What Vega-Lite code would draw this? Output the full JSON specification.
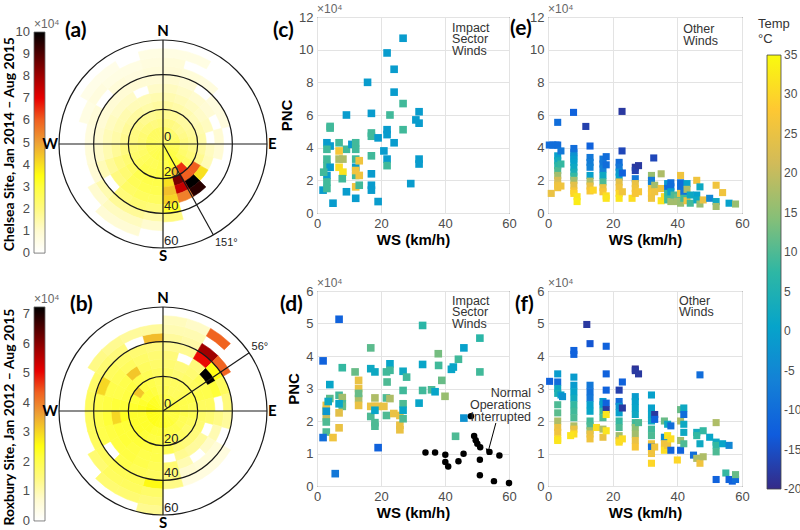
{
"$schema":"https://vega.github.io/schema/vega-lite/v6.json",
"padding":{"left":0,"top":2,"right":0,"bottom":0},
"background":"white",
"config":{"view":{"stroke":"#262626","strokeWidth":1},"font":"Liberation Sans",
"axis":{"gridColor":"#e3e3e3","gridWidth":1,"domain":false,"ticks":false,"labelOverlap":false,"tickCount":20,"format":"d","labelFont":"Liberation Sans","labelFontSize":13,"labelColor":"#4d4d4d","labelPadding":4,"labelFlush":false,"titleFont":"Liberation Sans","titleFontSize":15,"titleFontWeight":"bold","titleColor":"#000000"}},
"resolve":{"scale":{"fill":"independent","stroke":"independent","color":"independent","theta":"independent","radius":"independent"}},
"columns":5,"align":"none","bounds":"flush","spacing":{"column":39,"row":20},
"concat":[
{"width":9,"height":254,"view":{"stroke":null},
"layer":[
{"data":{"values":[{"lo":0,"hi":10}]},"mark":{"type":"rect","stroke":"#666666","strokeWidth":0.8,"fill":{"gradient":"linear","x1":0,"y1":1,"x2":0,"y2":0,"stops":[{"offset":0,"color":"#ffffff"},{"offset":0.1,"color":"#fffbd0"},{"offset":0.2,"color":"#fffa80"},{"offset":0.3,"color":"#ffff3c"},{"offset":0.35,"color":"#ffff10"},{"offset":0.4,"color":"#f8e020"},{"offset":0.5,"color":"#eda035"},{"offset":0.6,"color":"#f06020"},{"offset":0.7,"color":"#e80000"},{"offset":0.8,"color":"#a00000"},{"offset":0.9,"color":"#500000"},{"offset":1,"color":"#000000"}]}},
"encoding":{"x":{"datum":3.778,"type":"quantitative","scale":{"domain":[0,1],"nice":false,"zero":false},"axis":null},"x2":{"datum":5.0},"y":{"field":"lo","type":"quantitative","scale":{"domain":[-0.81,10.68],"nice":false,"zero":false},"axis":null},"y2":{"field":"hi"}}},
{"data":{"values":[{"v":0},{"v":1},{"v":2},{"v":3},{"v":4},{"v":5},{"v":6},{"v":7},{"v":8},{"v":9},{"v":10}]},"mark":{"type":"text","align":"right","baseline":"middle","fontSize":13,"color":"#4d4d4d"},"encoding":{"x":{"datum":3.333},"y":{"field":"v","type":"quantitative"},"text":{"field":"v","type":"quantitative"}}},
{"data":{"values":[{}]},"mark":{"type":"text","align":"center","baseline":"middle","angle":270,"font":"Lato","fontWeight":"bold","fontSize":14},"encoding":{"x":{"datum":1.111},"y":{"datum":4.93},"text":{"value":"Chelsea Site, Jan 2014 – Aug 2015"}}},
{"data":{"values":[{}]},"mark":{"type":"text","align":"left","baseline":"bottom","dy":-1,"fontSize":12,"color":"#666666"},"encoding":{"x":{"datum":3.778},"y":{"datum":10},"text":{"value":"×10⁴"}}}
]},
{"width":230,"height":254,"view":{"stroke":null},
"layer":[
{"data":{"values":[
{"a":0,"b":15,"r":0,"s":10,"p":2.35},{"a":0,"b":15,"r":10,"s":15,"p":2.0},{"a":0,"b":15,"r":15,"s":20,"p":1.8},{"a":0,"b":15,"r":20,"s":25,"p":1.6},{"a":0,"b":15,"r":25,"s":30,"p":1.4},{"a":0,"b":15,"r":30,"s":35,"p":1.2},{"a":0,"b":15,"r":35,"s":40,"p":1.0},{"a":0,"b":15,"r":40,"s":45,"p":0.9},{"a":0,"b":15,"r":45,"s":50,"p":0.8},{"a":0,"b":15,"r":50,"s":55,"p":0.6},
{"a":15,"b":30,"r":0,"s":10,"p":2.35},{"a":15,"b":30,"r":10,"s":15,"p":2.0},{"a":15,"b":30,"r":15,"s":20,"p":1.7},{"a":15,"b":30,"r":20,"s":25,"p":1.5},{"a":15,"b":30,"r":25,"s":30,"p":1.3},{"a":15,"b":30,"r":30,"s":35,"p":1.1},{"a":15,"b":30,"r":35,"s":40,"p":0.9},{"a":15,"b":30,"r":40,"s":45,"p":0.8},{"a":15,"b":30,"r":50,"s":55,"p":0.6},
{"a":30,"b":45,"r":0,"s":10,"p":2.25},{"a":30,"b":45,"r":10,"s":15,"p":1.9},{"a":30,"b":45,"r":15,"s":20,"p":1.6},{"a":30,"b":45,"r":20,"s":25,"p":1.4},{"a":30,"b":45,"r":25,"s":30,"p":1.2},{"a":30,"b":45,"r":30,"s":35,"p":1.0},{"a":30,"b":45,"r":40,"s":45,"p":0.7},
{"a":45,"b":60,"r":0,"s":10,"p":2.25},{"a":45,"b":60,"r":10,"s":15,"p":1.8},{"a":45,"b":60,"r":15,"s":20,"p":1.6},{"a":45,"b":60,"r":20,"s":25,"p":1.3},{"a":45,"b":60,"r":25,"s":30,"p":1.1},{"a":45,"b":60,"r":30,"s":35,"p":0.9},{"a":45,"b":60,"r":35,"s":40,"p":0.7},
{"a":60,"b":75,"r":0,"s":10,"p":2.35},{"a":60,"b":75,"r":10,"s":15,"p":1.9},{"a":60,"b":75,"r":15,"s":20,"p":1.7},{"a":60,"b":75,"r":20,"s":25,"p":1.4},{"a":60,"b":75,"r":25,"s":30,"p":1.2},{"a":60,"b":75,"r":35,"s":40,"p":0.7},
{"a":75,"b":90,"r":0,"s":10,"p":2.45},{"a":75,"b":90,"r":10,"s":15,"p":2.0},{"a":75,"b":90,"r":15,"s":20,"p":1.8},{"a":75,"b":90,"r":20,"s":25,"p":1.5},{"a":75,"b":90,"r":30,"s":35,"p":0.9},
{"a":90,"b":105,"r":0,"s":10,"p":2.55},{"a":90,"b":105,"r":10,"s":15,"p":2.1},{"a":90,"b":105,"r":15,"s":20,"p":1.9},{"a":90,"b":105,"r":20,"s":25,"p":1.6},{"a":90,"b":105,"r":25,"s":30,"p":1.2},{"a":90,"b":105,"r":30,"s":35,"p":0.9},
{"a":105,"b":120,"r":0,"s":10,"p":2.65},{"a":105,"b":120,"r":10,"s":15,"p":2.3},{"a":105,"b":120,"r":15,"s":20,"p":2.1},{"a":105,"b":120,"r":20,"s":25,"p":1.8},{"a":105,"b":120,"r":25,"s":30,"p":1.3},
{"a":120,"b":135,"r":0,"s":10,"p":2.8},{"a":120,"b":135,"r":10,"s":15,"p":2.5},{"a":120,"b":135,"r":15,"s":20,"p":2.4},{"a":120,"b":135,"r":20,"s":25,"p":6.0},{"a":120,"b":135,"r":25,"s":30,"p":4.0},
{"a":135,"b":150,"r":0,"s":10,"p":2.9},{"a":135,"b":150,"r":10,"s":15,"p":3.0},{"a":135,"b":150,"r":15,"s":20,"p":6.5},{"a":135,"b":150,"r":20,"s":25,"p":6.0},{"a":135,"b":150,"r":25,"s":30,"p":10},{"a":135,"b":150,"r":30,"s":35,"p":9.5},
{"a":150,"b":165,"r":0,"s":10,"p":2.95},{"a":150,"b":165,"r":10,"s":15,"p":3.1},{"a":150,"b":165,"r":15,"s":20,"p":4.5},{"a":150,"b":165,"r":20,"s":25,"p":8.5},{"a":150,"b":165,"r":25,"s":30,"p":7.5},{"a":150,"b":165,"r":30,"s":35,"p":5.5},
{"a":165,"b":180,"r":0,"s":10,"p":2.9},{"a":165,"b":180,"r":10,"s":15,"p":2.8},{"a":165,"b":180,"r":15,"s":20,"p":3.2},{"a":165,"b":180,"r":20,"s":25,"p":4.0},{"a":165,"b":180,"r":25,"s":30,"p":4.5},{"a":165,"b":180,"r":30,"s":35,"p":4.2},{"a":165,"b":180,"r":35,"s":40,"p":3.2},{"a":165,"b":180,"r":40,"s":45,"p":2.0},
{"a":180,"b":195,"r":0,"s":10,"p":2.75},{"a":180,"b":195,"r":10,"s":15,"p":2.7},{"a":180,"b":195,"r":15,"s":20,"p":2.8},{"a":180,"b":195,"r":20,"s":25,"p":2.8},{"a":180,"b":195,"r":25,"s":30,"p":2.7},{"a":180,"b":195,"r":30,"s":35,"p":2.5},{"a":180,"b":195,"r":35,"s":40,"p":2.1},{"a":180,"b":195,"r":40,"s":45,"p":1.5},{"a":180,"b":195,"r":45,"s":50,"p":1.0},
{"a":195,"b":210,"r":0,"s":10,"p":2.75},{"a":195,"b":210,"r":10,"s":15,"p":2.6},{"a":195,"b":210,"r":15,"s":20,"p":2.7},{"a":195,"b":210,"r":20,"s":25,"p":2.8},{"a":195,"b":210,"r":25,"s":30,"p":2.7},{"a":195,"b":210,"r":30,"s":35,"p":2.5},{"a":195,"b":210,"r":35,"s":40,"p":2.2},{"a":195,"b":210,"r":40,"s":45,"p":1.7},{"a":195,"b":210,"r":45,"s":50,"p":1.2},{"a":195,"b":210,"r":50,"s":55,"p":0.9},
{"a":210,"b":225,"r":0,"s":10,"p":2.7},{"a":210,"b":225,"r":10,"s":15,"p":2.6},{"a":210,"b":225,"r":15,"s":20,"p":2.7},{"a":210,"b":225,"r":20,"s":25,"p":2.7},{"a":210,"b":225,"r":25,"s":30,"p":2.6},{"a":210,"b":225,"r":30,"s":35,"p":2.4},{"a":210,"b":225,"r":35,"s":40,"p":2.1},{"a":210,"b":225,"r":40,"s":45,"p":1.7},{"a":210,"b":225,"r":45,"s":50,"p":1.2},{"a":210,"b":225,"r":50,"s":55,"p":0.9},
{"a":225,"b":240,"r":0,"s":10,"p":2.65},{"a":225,"b":240,"r":10,"s":15,"p":2.5},{"a":225,"b":240,"r":15,"s":20,"p":2.5},{"a":225,"b":240,"r":20,"s":25,"p":2.4},{"a":225,"b":240,"r":25,"s":30,"p":2.2},{"a":225,"b":240,"r":30,"s":35,"p":2.0},{"a":225,"b":240,"r":40,"s":45,"p":1.4},{"a":225,"b":240,"r":45,"s":50,"p":1.0},
{"a":240,"b":255,"r":0,"s":10,"p":2.6},{"a":240,"b":255,"r":10,"s":15,"p":2.4},{"a":240,"b":255,"r":15,"s":20,"p":2.3},{"a":240,"b":255,"r":20,"s":25,"p":2.2},{"a":240,"b":255,"r":25,"s":30,"p":2.0},{"a":240,"b":255,"r":30,"s":35,"p":1.7},{"a":240,"b":255,"r":35,"s":40,"p":1.3},{"a":240,"b":255,"r":40,"s":45,"p":0.9},
{"a":255,"b":270,"r":0,"s":10,"p":2.6},{"a":255,"b":270,"r":10,"s":15,"p":2.3},{"a":255,"b":270,"r":15,"s":20,"p":2.2},{"a":255,"b":270,"r":20,"s":25,"p":2.0},{"a":255,"b":270,"r":25,"s":30,"p":1.7},{"a":255,"b":270,"r":30,"s":35,"p":1.4},{"a":255,"b":270,"r":35,"s":40,"p":1.1},{"a":255,"b":270,"r":40,"s":45,"p":0.8},
{"a":270,"b":285,"r":0,"s":10,"p":2.5},{"a":270,"b":285,"r":10,"s":15,"p":2.2},{"a":270,"b":285,"r":15,"s":20,"p":2.0},{"a":270,"b":285,"r":20,"s":25,"p":1.8},{"a":270,"b":285,"r":25,"s":30,"p":1.5},{"a":270,"b":285,"r":30,"s":35,"p":1.3},{"a":270,"b":285,"r":35,"s":40,"p":1.0},{"a":270,"b":285,"r":40,"s":45,"p":0.7},
{"a":285,"b":300,"r":0,"s":10,"p":2.5},{"a":285,"b":300,"r":10,"s":15,"p":2.2},{"a":285,"b":300,"r":15,"s":20,"p":2.0},{"a":285,"b":300,"r":20,"s":25,"p":1.7},{"a":285,"b":300,"r":25,"s":30,"p":1.4},{"a":285,"b":300,"r":30,"s":35,"p":1.2},{"a":285,"b":300,"r":35,"s":40,"p":0.9},{"a":285,"b":300,"r":40,"s":45,"p":0.8},{"a":285,"b":300,"r":45,"s":50,"p":0.6},
{"a":300,"b":315,"r":0,"s":10,"p":2.45},{"a":300,"b":315,"r":10,"s":15,"p":2.1},{"a":300,"b":315,"r":15,"s":20,"p":1.9},{"a":300,"b":315,"r":20,"s":25,"p":1.6},{"a":300,"b":315,"r":25,"s":30,"p":1.4},{"a":300,"b":315,"r":30,"s":35,"p":1.1},{"a":300,"b":315,"r":35,"s":40,"p":0.9},{"a":300,"b":315,"r":45,"s":50,"p":0.7},{"a":300,"b":315,"r":50,"s":55,"p":0.5},
{"a":315,"b":330,"r":0,"s":10,"p":2.45},{"a":315,"b":330,"r":10,"s":15,"p":2.1},{"a":315,"b":330,"r":15,"s":20,"p":1.8},{"a":315,"b":330,"r":20,"s":25,"p":1.6},{"a":315,"b":330,"r":25,"s":30,"p":1.3},{"a":315,"b":330,"r":30,"s":35,"p":1.1},{"a":315,"b":330,"r":35,"s":40,"p":0.9},{"a":315,"b":330,"r":40,"s":45,"p":0.8},{"a":315,"b":330,"r":45,"s":50,"p":0.6},{"a":315,"b":330,"r":50,"s":55,"p":0.5},
{"a":330,"b":345,"r":0,"s":10,"p":2.45},{"a":330,"b":345,"r":10,"s":15,"p":2.0},{"a":330,"b":345,"r":15,"s":20,"p":1.8},{"a":330,"b":345,"r":20,"s":25,"p":1.5},{"a":330,"b":345,"r":25,"s":30,"p":1.3},{"a":330,"b":345,"r":35,"s":40,"p":0.9},{"a":330,"b":345,"r":40,"s":45,"p":0.7},{"a":330,"b":345,"r":45,"s":50,"p":0.6},
{"a":345,"b":360,"r":0,"s":10,"p":2.45},{"a":345,"b":360,"r":10,"s":15,"p":2.1},{"a":345,"b":360,"r":15,"s":20,"p":1.9},{"a":345,"b":360,"r":20,"s":25,"p":1.6},{"a":345,"b":360,"r":25,"s":30,"p":1.4},{"a":345,"b":360,"r":30,"s":35,"p":1.1},{"a":345,"b":360,"r":35,"s":40,"p":0.9},{"a":345,"b":360,"r":40,"s":45,"p":0.8},{"a":345,"b":360,"r":45,"s":50,"p":0.7},{"a":345,"b":360,"r":50,"s":55,"p":0.6}
]},
"mark":{"type":"arc","strokeWidth":0.6},
"encoding":{
"theta":{"field":"a","type":"quantitative","scale":{"type":"linear","domain":[0,360],"range":[0,6.283185307179586]}},"theta2":{"field":"b"},
"radius":{"field":"r","type":"quantitative","scale":{"type":"linear","domain":[0,60],"range":[0,104],"zero":true,"nice":false}},"radius2":{"field":"s"},
"fill":{"field":"p","type":"quantitative","scale":{"domain":[0,1,2,3,3.5,4,5,6,7,8,9,10],"range":["#ffffff","#fffbd0","#fffa80","#ffff3c","#ffff10","#f8e020","#eda035","#f06020","#e80000","#a00000","#500000","#000000"],"interpolate":"rgb"},"legend":null},
"stroke":{"field":"p","type":"quantitative","scale":{"domain":[0,1,2,3,3.5,4,5,6,7,8,9,10],"range":["#ffffff","#fffbd0","#fffa80","#ffff3c","#ffff10","#f8e020","#eda035","#f06020","#e80000","#a00000","#500000","#000000"],"interpolate":"rgb"},"legend":null}}},
{"data":{"values":[{"r":20},{"r":40},{"r":60}]},"mark":{"type":"arc","filled":false,"stroke":"#1a1a1a","strokeWidth":1.2},
"encoding":{"theta":{"datum":0},"theta2":{"datum":360},"radius":{"field":"r","type":"quantitative"},"radius2":{"datum":0}}},
{"data":{"values":[{"x":-60,"y":0,"x2":60,"y2":0},{"x":0,"y":-60,"x2":0,"y2":60},{"x":0,"y":0,"x2":29.09,"y2":-52.48}]},"mark":{"type":"rule","color":"#1a1a1a","strokeWidth":1.2},
"encoding":{"x":{"field":"x","type":"quantitative","scale":{"domain":[-66.35,66.35],"nice":false,"zero":false},"axis":null},"y":{"field":"y","type":"quantitative","scale":{"domain":[-73.27,73.27],"nice":false,"zero":false},"axis":null},"x2":{"field":"x2"},"y2":{"field":"y2"}}},
{"data":{"values":[{"y":0,"l":"0"},{"y":-20,"l":"20"},{"y":-40,"l":"40"},{"y":-60,"l":"60"}]},"mark":{"type":"text","align":"left","baseline":"bottom","dx":1,"fontSize":13,"color":"#222222"},"encoding":{"x":{"datum":0},"y":{"field":"y","type":"quantitative"},"text":{"field":"l"}}},
{"data":{"values":[{}]},"mark":{"type":"text","align":"center","baseline":"bottom","dy":-1,"font":"Lato","fontWeight":"bold","fontSize":15},"encoding":{"x":{"datum":0},"y":{"datum":60},"text":{"value":"N"}}},
{"data":{"values":[{}]},"mark":{"type":"text","align":"center","baseline":"top","dy":1,"font":"Lato","fontWeight":"bold","fontSize":15},"encoding":{"x":{"datum":0},"y":{"datum":-60},"text":{"value":"S"}}},
{"data":{"values":[{}]},"mark":{"type":"text","align":"right","baseline":"middle","dx":-1,"font":"Lato","fontWeight":"bold","fontSize":15},"encoding":{"x":{"datum":-60},"y":{"datum":0},"text":{"value":"W"}}},
{"data":{"values":[{}]},"mark":{"type":"text","align":"left","baseline":"middle","dx":1,"font":"Lato","fontWeight":"bold","fontSize":15},"encoding":{"x":{"datum":60},"y":{"datum":0},"text":{"value":"E"}}},
{"data":{"values":[{}]},"mark":{"type":"text","align":"left","baseline":"top","fontSize":11,"color":"#222222"},"encoding":{"x":{"datum":30},"y":{"datum":-53.5},"text":{"value":"151°"}}},
{"data":{"values":[{}]},"mark":{"type":"text","align":"left","baseline":"middle","font":"Lato","fontWeight":"bold","fontSize":21},"encoding":{"x":{"datum":-56.5},"y":{"datum":65.2},"text":{"value":"(a)"}}}
]},
{"width":192,"height":196,
"layer":[
{"data":{"values":[{"w":26.9,"p":10.7,"t":-1},{"w":21.9,"p":9.8,"t":-1},{"w":24.1,"p":8.8,"t":-1},{"w":15.8,"p":8.0,"t":-1},{"w":24.1,"p":7.4,"t":-1},{"w":26.9,"p":6.7,"t":9},{"w":22.8,"p":6.0,"t":9},{"w":31.9,"p":6.2,"t":-1},{"w":30.9,"p":5.7,"t":-1},{"w":31.9,"p":5.5,"t":-1},{"w":17,"p":6.1,"t":-1},{"w":9.2,"p":6.0,"t":-1},{"w":4.1,"p":5.3,"t":9},{"w":4.1,"p":5.2,"t":9},{"w":17,"p":4.9,"t":9},{"w":17,"p":4.7,"t":9},{"w":21.9,"p":5.1,"t":-1},{"w":21.9,"p":4.8,"t":-1},{"w":19.1,"p":4.6,"t":-1},{"w":24.1,"p":4.3,"t":-1},{"w":26.9,"p":5.1,"t":9},{"w":20.9,"p":3.8,"t":-1},{"w":21.9,"p":3.3,"t":-1},{"w":21.9,"p":2.9,"t":9},{"w":17,"p":3.5,"t":9},{"w":31.9,"p":3.3,"t":-1},{"w":31.9,"p":3.0,"t":-1},{"w":29.3,"p":1.8,"t":-1},{"w":17,"p":2.4,"t":-1},{"w":17,"p":1.7,"t":-1},{"w":17,"p":1.4,"t":-1},{"w":19.1,"p":0.7,"t":-1},{"w":12.1,"p":0.9,"t":-1},{"w":9.2,"p":1.3,"t":-1},{"w":5,"p":0.6,"t":-1},{"w":1.9,"p":1.4,"t":-1},{"w":3.1,"p":4.3,"t":-1},{"w":4.1,"p":4.1,"t":-1},{"w":9.2,"p":3.9,"t":9},{"w":10.9,"p":4.2,"t":-1},{"w":12.1,"p":4.3,"t":9},{"w":12.1,"p":3.9,"t":9},{"w":12.1,"p":3.3,"t":9},{"w":6.9,"p":4.3,"t":9},{"w":6.9,"p":3.8,"t":27},{"w":6.9,"p":3.3,"t":18},{"w":8.1,"p":3.3,"t":18},{"w":6.9,"p":2.8,"t":31},{"w":8.1,"p":2.5,"t":32},{"w":7.9,"p":2.1,"t":9},{"w":3.1,"p":3.3,"t":9},{"w":3.1,"p":2.9,"t":9},{"w":3.1,"p":2.3,"t":-1},{"w":3.1,"p":1.9,"t":9},{"w":3.1,"p":1.5,"t":9},{"w":4.1,"p":2.8,"t":-1},{"w":12.1,"p":2.8,"t":-1},{"w":12.1,"p":2.3,"t":9},{"w":12.1,"p":1.6,"t":26},{"w":13.2,"p":3.2,"t":26},{"w":13.2,"p":2.3,"t":26},{"w":12.1,"p":2.6,"t":26},{"w":13.2,"p":1.7,"t":9},{"w":3.1,"p":3.9,"t":9},{"w":2.1,"p":2.5,"t":9}]},
"mark":{"type":"square","size":58,"opacity":1},
"encoding":{"x":{"field":"w","type":"quantitative","scale":{"domain":[0,60],"nice":false,"zero":false},"axis":{"values":[0,20,40,60],"grid":true,"title":"WS (km/h)","titlePadding":2}},
"y":{"field":"p","type":"quantitative","scale":{"domain":[0,12],"nice":false},"axis":{"values":[0,2,4,6,8,10,12],"tickCount":20,"format":"d","grid":true,"title":"PNC","titlePadding":4}},
"color":{"field":"t","type":"quantitative","scale":{"domain":[-20,-13.125,-6.25,0.625,7.5,14.375,21.25,28.125,35],"range":["#352a87","#0f5cdd","#1481d6","#06a4ca","#2eb7a4","#87bf77","#d1bb59","#fec832","#f9fb0e"],"interpolate":"rgb"},"legend":null}}},
{"data":{"values":[{}]},"mark":{"type":"text","align":"left","baseline":"bottom","dy":-1,"fontSize":12,"color":"#666666"},"encoding":{"x":{"datum":0},"y":{"datum":12},"text":{"value":"×10⁴"}}},
{"data":{"values":[{}]},"mark":{"type":"text","align":"left","baseline":"top","fontSize":12.5,"lineHeight":11.5,"color":"#333333"},"encoding":{"x":{"datum":42.2},"y":{"datum":11.7},"text":{"value":["Impact","Sector","Winds"]}}},
{"data":{"values":[{}]},"mark":{"type":"text","align":"left","baseline":"middle","font":"Lato","fontWeight":"bold","fontSize":21},"encoding":{"x":{"datum":-13.75},"y":{"datum":11.14},"text":{"value":"(c)"}}}
]},
{"width":194,"height":196,
"layer":[
{"data":{"values":[{"w":3,"p":5.55,"t":-10},{"w":7.9,"p":6.16,"t":-12},{"w":11.7,"p":5.3,"t":-17},{"w":22.9,"p":6.22,"t":-18},{"w":22.9,"p":3.8,"t":-16},{"w":32.7,"p":3.37,"t":-16},{"w":0.4,"p":4.16,"t":-10},{"w":1.5,"p":4.16,"t":-10},{"w":2.5,"p":4.16,"t":-10},{"w":3,"p":4.16,"t":-10},{"w":3,"p":3.5,"t":0},{"w":3,"p":3.2,"t":3},{"w":3,"p":2.9,"t":7},{"w":3,"p":2.6,"t":10},{"w":3,"p":2.3,"t":17},{"w":3,"p":2.0,"t":22},{"w":3,"p":1.7,"t":25},{"w":3,"p":1.55,"t":26},{"w":1,"p":1.2,"t":25},{"w":4,"p":3.8,"t":-8},{"w":4,"p":3.0,"t":8},{"w":4,"p":1.65,"t":26},{"w":8,"p":3.95,"t":-10},{"w":8,"p":3.7,"t":-9},{"w":8,"p":3.5,"t":-3},{"w":8,"p":3.3,"t":-1},{"w":8,"p":3.1,"t":0},{"w":8,"p":2.8,"t":2},{"w":8,"p":2.5,"t":4},{"w":8,"p":2.25,"t":8},{"w":8,"p":2.0,"t":17},{"w":8,"p":1.7,"t":24},{"w":8,"p":1.35,"t":27},{"w":8,"p":1.2,"t":30},{"w":9,"p":1.0,"t":32},{"w":9,"p":0.7,"t":33},{"w":13,"p":4.1,"t":-12},{"w":13,"p":3.4,"t":-8},{"w":13,"p":3.1,"t":-7},{"w":13,"p":2.8,"t":-6},{"w":13,"p":2.3,"t":0},{"w":13,"p":1.95,"t":18},{"w":13,"p":1.65,"t":25},{"w":13,"p":1.35,"t":27},{"w":14,"p":1.4,"t":30},{"w":17,"p":3.3,"t":-8},{"w":17,"p":3.0,"t":-8},{"w":17,"p":2.7,"t":-6},{"w":17,"p":2.3,"t":2},{"w":17,"p":1.9,"t":10},{"w":17,"p":1.55,"t":25},{"w":17,"p":1.3,"t":27},{"w":18,"p":3.45,"t":-10},{"w":18,"p":2.95,"t":-10},{"w":18,"p":1.05,"t":31},{"w":18,"p":0.9,"t":32},{"w":22,"p":3.1,"t":-10},{"w":22,"p":2.8,"t":-8},{"w":22,"p":2.5,"t":-2},{"w":22,"p":2.2,"t":0},{"w":22,"p":1.9,"t":24},{"w":22,"p":1.55,"t":26},{"w":22,"p":1.2,"t":30},{"w":22,"p":0.9,"t":32},{"w":23,"p":2.45,"t":-12},{"w":23,"p":1.3,"t":26},{"w":26,"p":0.9,"t":31},{"w":27,"p":2.8,"t":-18},{"w":27,"p":2.6,"t":-17},{"w":27,"p":2.1,"t":-8},{"w":27,"p":1.8,"t":25},{"w":27,"p":1.5,"t":26},{"w":27,"p":1.2,"t":27},{"w":28,"p":2.9,"t":-18},{"w":28,"p":1.3,"t":27},{"w":32,"p":2.3,"t":16},{"w":32,"p":2.0,"t":-8},{"w":32,"p":1.8,"t":-6},{"w":32,"p":1.5,"t":26},{"w":32,"p":1.2,"t":27},{"w":32,"p":0.9,"t":26},{"w":33,"p":1.7,"t":17},{"w":33,"p":1.3,"t":26},{"w":35,"p":2.4,"t":18},{"w":35,"p":1.5,"t":26},{"w":35,"p":0.75,"t":32},{"w":36,"p":1.0,"t":31},{"w":37,"p":1.8,"t":-2},{"w":37,"p":1.5,"t":-10},{"w":37,"p":1.2,"t":8},{"w":37,"p":0.8,"t":9},{"w":38,"p":1.85,"t":-10},{"w":38,"p":1.6,"t":-10},{"w":38,"p":1.3,"t":0},{"w":38,"p":0.7,"t":17},{"w":39,"p":1.1,"t":10},{"w":40,"p":0.95,"t":12},{"w":40,"p":0.7,"t":17},{"w":41,"p":2.3,"t":26},{"w":41,"p":1.85,"t":-10},{"w":41,"p":1.6,"t":-10},{"w":41,"p":1.2,"t":26},{"w":41,"p":0.6,"t":16},{"w":42,"p":1.65,"t":-10},{"w":42,"p":1.3,"t":-9},{"w":42,"p":0.9,"t":9},{"w":43,"p":1.8,"t":0},{"w":43,"p":1.45,"t":18},{"w":43,"p":0.75,"t":26},{"w":44,"p":1.1,"t":2},{"w":44,"p":0.6,"t":9},{"w":46,"p":2.0,"t":26},{"w":46,"p":1.1,"t":0},{"w":46,"p":0.8,"t":2},{"w":47,"p":1.6,"t":2},{"w":47,"p":0.55,"t":16},{"w":48,"p":0.8,"t":25},{"w":50,"p":0.9,"t":-5},{"w":52,"p":1.7,"t":26},{"w":52,"p":0.7,"t":2},{"w":52,"p":0.4,"t":17},{"w":54,"p":1.25,"t":26},{"w":56,"p":0.6,"t":0},{"w":58,"p":0.55,"t":16}]},
"mark":{"type":"square","size":50,"opacity":1},
"encoding":{"x":{"field":"w","type":"quantitative","scale":{"domain":[0,60],"nice":false,"zero":false},"axis":{"values":[0,20,40,60],"grid":true,"title":"WS (km/h)","titlePadding":2}},
"y":{"field":"p","type":"quantitative","scale":{"domain":[0,12],"nice":false},"axis":{"values":[0,2,4,6,8,10,12],"tickCount":20,"format":"d","grid":true,"title":null}},
"color":{"field":"t","type":"quantitative","scale":{"domain":[-20,-13.125,-6.25,0.625,7.5,14.375,21.25,28.125,35],"range":["#352a87","#0f5cdd","#1481d6","#06a4ca","#2eb7a4","#87bf77","#d1bb59","#fec832","#f9fb0e"],"interpolate":"rgb"},"legend":null}}},
{"data":{"values":[{}]},"mark":{"type":"text","align":"left","baseline":"bottom","dy":-1,"fontSize":12,"color":"#666666"},"encoding":{"x":{"datum":0},"y":{"datum":12},"text":{"value":"×10⁴"}}},
{"data":{"values":[{}]},"mark":{"type":"text","align":"left","baseline":"top","fontSize":12.5,"lineHeight":11.5,"color":"#333333"},"encoding":{"x":{"datum":41.8},"y":{"datum":11.63},"text":{"value":["Other","Winds"]}}},
{"data":{"values":[{}]},"mark":{"type":"text","align":"left","baseline":"middle","font":"Lato","fontWeight":"bold","fontSize":21},"encoding":{"x":{"datum":-11.75},"y":{"datum":11.27},"text":{"value":"(e)"}}}
]},
{"width":1,"height":254,"view":{"stroke":null},
"layer":[
{"data":{"values":[{"lo":-20,"hi":35}]},"mark":{"type":"rect","stroke":"#444444","strokeWidth":0.8,"fill":{"gradient":"linear","x1":0,"y1":1,"x2":0,"y2":0,"stops":[{"offset":0,"color":"#352a87"},{"offset":0.125,"color":"#0f5cdd"},{"offset":0.25,"color":"#1481d6"},{"offset":0.375,"color":"#06a4ca"},{"offset":0.5,"color":"#2eb7a4"},{"offset":0.625,"color":"#87bf77"},{"offset":0.75,"color":"#d1bb59"},{"offset":0.875,"color":"#fec832"},{"offset":1,"color":"#f9fb0e"}]}},
"encoding":{"x":{"datum":-14,"type":"quantitative","scale":{"domain":[0,1],"nice":false,"zero":false},"axis":null},"x2":{"datum":0},
"y":{"field":"lo","type":"quantitative","scale":{"domain":[7.63,39.82],"nice":false,"zero":false},"axis":null},"y2":{"field":"hi"}}},
{"data":{"values":[{"v":-20,"l":"-20"},{"v":-15,"l":"-15"},{"v":-10,"l":"-10"},{"v":-5,"l":"-5"},{"v":0,"l":"0"},{"v":5,"l":"5"},{"v":10,"l":"10"},{"v":15,"l":"15"},{"v":20,"l":"20"},{"v":25,"l":"25"},{"v":30,"l":"30"},{"v":35,"l":"35"}]},"mark":{"type":"text","align":"left","baseline":"middle","fontSize":12,"color":"#4d4d4d"},"encoding":{"x":{"datum":3},"y":{"field":"v","type":"quantitative"},"text":{"field":"l"}}},
{"data":{"values":[{}]},"mark":{"type":"text","align":"left","baseline":"top","fontSize":13,"lineHeight":15,"color":"#333333"},"encoding":{"x":{"datum":-23},"y":{"datum":39.7},"text":{"value":["Temp","°C"]}}}
]},
{"width":9,"height":240,"view":{"stroke":null},
"layer":[
{"data":{"values":[{"lo":0,"hi":7.25}]},"mark":{"type":"rect","stroke":"#666666","strokeWidth":0.8,"fill":{"gradient":"linear","x1":0,"y1":1,"x2":0,"y2":0,"stops":[{"offset":0,"color":"#ffffff"},{"offset":0.1,"color":"#fffbd0"},{"offset":0.2,"color":"#fffa80"},{"offset":0.3,"color":"#ffff3c"},{"offset":0.35,"color":"#ffff10"},{"offset":0.4,"color":"#f8e020"},{"offset":0.5,"color":"#eda035"},{"offset":0.6,"color":"#f06020"},{"offset":0.7,"color":"#e80000"},{"offset":0.8,"color":"#a00000"},{"offset":0.9,"color":"#500000"},{"offset":1,"color":"#000000"}]}},
"encoding":{"x":{"datum":3.778,"type":"quantitative","scale":{"domain":[0,1],"nice":false,"zero":false},"axis":null},"x2":{"datum":5.0},"y":{"field":"lo","type":"quantitative","scale":{"domain":[-0.34,7.79],"nice":false,"zero":false},"axis":null},"y2":{"field":"hi"}}},
{"data":{"values":[{"v":0},{"v":1},{"v":2},{"v":3},{"v":4},{"v":5},{"v":6},{"v":7}]},"mark":{"type":"text","align":"right","baseline":"middle","fontSize":13,"color":"#4d4d4d"},"encoding":{"x":{"datum":3.333},"y":{"field":"v","type":"quantitative"},"text":{"field":"v","type":"quantitative"}}},
{"data":{"values":[{}]},"mark":{"type":"text","align":"center","baseline":"middle","angle":270,"font":"Lato","fontWeight":"bold","fontSize":14},"encoding":{"x":{"datum":1.111},"y":{"datum":3.52},"text":{"value":"Roxbury Site, Jan 2012 – Aug 2015"}}},
{"data":{"values":[{}]},"mark":{"type":"text","align":"left","baseline":"bottom","dy":-1,"fontSize":12,"color":"#666666"},"encoding":{"x":{"datum":3.778},"y":{"datum":7.25},"text":{"value":"×10⁴"}}}
]},
{"width":230,"height":240,"view":{"stroke":null},
"layer":[
{"data":{"values":[
{"a":0,"b":15,"r":0,"s":10,"p":2.0},{"a":0,"b":15,"r":10,"s":15,"p":1.9},{"a":0,"b":15,"r":15,"s":20,"p":1.8},{"a":0,"b":15,"r":20,"s":25,"p":1.7},{"a":0,"b":15,"r":25,"s":30,"p":1.6},{"a":0,"b":15,"r":30,"s":35,"p":1.5},{"a":0,"b":15,"r":35,"s":40,"p":1.3},{"a":0,"b":15,"r":40,"s":45,"p":1.2},{"a":0,"b":15,"r":45,"s":50,"p":1.0},{"a":0,"b":15,"r":50,"s":55,"p":0.9},
{"a":15,"b":30,"r":0,"s":10,"p":1.95},{"a":15,"b":30,"r":10,"s":15,"p":1.8},{"a":15,"b":30,"r":15,"s":20,"p":1.8},{"a":15,"b":30,"r":20,"s":25,"p":1.6},{"a":15,"b":30,"r":25,"s":30,"p":1.5},{"a":15,"b":30,"r":35,"s":40,"p":1.3},{"a":15,"b":30,"r":40,"s":45,"p":1.1},{"a":15,"b":30,"r":45,"s":50,"p":1.0},{"a":15,"b":30,"r":50,"s":55,"p":0.8},
{"a":30,"b":45,"r":0,"s":10,"p":1.95},{"a":30,"b":45,"r":10,"s":15,"p":1.8},{"a":30,"b":45,"r":15,"s":20,"p":1.8},{"a":30,"b":45,"r":20,"s":25,"p":1.7},{"a":30,"b":45,"r":25,"s":30,"p":1.6},{"a":30,"b":45,"r":30,"s":35,"p":1.5},{"a":30,"b":45,"r":35,"s":40,"p":5.0},{"a":30,"b":45,"r":40,"s":45,"p":5.8},{"a":30,"b":45,"r":50,"s":55,"p":4.3},
{"a":45,"b":60,"r":0,"s":10,"p":2.05},{"a":45,"b":60,"r":10,"s":15,"p":1.9},{"a":45,"b":60,"r":15,"s":20,"p":1.9},{"a":45,"b":60,"r":20,"s":25,"p":1.8},{"a":45,"b":60,"r":25,"s":30,"p":1.9},{"a":45,"b":60,"r":30,"s":35,"p":7.3},{"a":45,"b":60,"r":35,"s":40,"p":2.5},{"a":45,"b":60,"r":40,"s":45,"p":4.3},
{"a":60,"b":75,"r":0,"s":10,"p":2.15},{"a":60,"b":75,"r":10,"s":15,"p":2.0},{"a":60,"b":75,"r":15,"s":20,"p":2.0},{"a":60,"b":75,"r":20,"s":25,"p":2.0},{"a":60,"b":75,"r":25,"s":30,"p":2.0},{"a":60,"b":75,"r":30,"s":35,"p":2.2},{"a":60,"b":75,"r":35,"s":40,"p":1.8},
{"a":75,"b":90,"r":0,"s":10,"p":2.15},{"a":75,"b":90,"r":10,"s":15,"p":2.0},{"a":75,"b":90,"r":15,"s":20,"p":1.9},{"a":75,"b":90,"r":20,"s":25,"p":1.8},{"a":75,"b":90,"r":25,"s":30,"p":1.8},{"a":75,"b":90,"r":35,"s":40,"p":1.5},
{"a":90,"b":105,"r":0,"s":10,"p":2.15},{"a":90,"b":105,"r":10,"s":15,"p":2.0},{"a":90,"b":105,"r":15,"s":20,"p":1.9},{"a":90,"b":105,"r":20,"s":25,"p":1.7},{"a":90,"b":105,"r":25,"s":30,"p":1.6},{"a":90,"b":105,"r":30,"s":35,"p":1.4},{"a":90,"b":105,"r":35,"s":40,"p":1.2},
{"a":105,"b":120,"r":0,"s":10,"p":2.1},{"a":105,"b":120,"r":10,"s":15,"p":1.9},{"a":105,"b":120,"r":15,"s":20,"p":1.8},{"a":105,"b":120,"r":20,"s":25,"p":1.6},{"a":105,"b":120,"r":30,"s":35,"p":1.0},
{"a":120,"b":135,"r":0,"s":10,"p":2.1},{"a":120,"b":135,"r":10,"s":15,"p":1.9},{"a":120,"b":135,"r":15,"s":20,"p":1.7},{"a":120,"b":135,"r":20,"s":25,"p":1.5},{"a":120,"b":135,"r":25,"s":30,"p":1.2},{"a":120,"b":135,"r":30,"s":35,"p":0.8},{"a":120,"b":135,"r":35,"s":40,"p":0.6},{"a":120,"b":135,"r":40,"s":45,"p":0.5},
{"a":135,"b":150,"r":0,"s":10,"p":2.2},{"a":135,"b":150,"r":10,"s":15,"p":2.0},{"a":135,"b":150,"r":15,"s":20,"p":1.8},{"a":135,"b":150,"r":20,"s":25,"p":1.5},{"a":135,"b":150,"r":25,"s":30,"p":1.2},{"a":135,"b":150,"r":35,"s":40,"p":0.6},{"a":135,"b":150,"r":40,"s":45,"p":0.5},
{"a":150,"b":165,"r":0,"s":10,"p":2.2},{"a":150,"b":165,"r":10,"s":15,"p":2.0},{"a":150,"b":165,"r":15,"s":20,"p":1.8},{"a":150,"b":165,"r":20,"s":25,"p":1.6},{"a":150,"b":165,"r":25,"s":30,"p":1.3},{"a":150,"b":165,"r":30,"s":35,"p":1.0},{"a":150,"b":165,"r":35,"s":40,"p":0.7},{"a":150,"b":165,"r":40,"s":45,"p":0.5},
{"a":165,"b":180,"r":0,"s":10,"p":2.3},{"a":165,"b":180,"r":10,"s":15,"p":2.1},{"a":165,"b":180,"r":15,"s":20,"p":2.0},{"a":165,"b":180,"r":20,"s":25,"p":1.9},{"a":165,"b":180,"r":30,"s":35,"p":1.6},{"a":165,"b":180,"r":35,"s":40,"p":1.5},{"a":165,"b":180,"r":40,"s":45,"p":1.4},
{"a":180,"b":195,"r":0,"s":10,"p":2.4},{"a":180,"b":195,"r":10,"s":15,"p":2.2},{"a":180,"b":195,"r":15,"s":20,"p":2.1},{"a":180,"b":195,"r":20,"s":25,"p":2.0},{"a":180,"b":195,"r":25,"s":30,"p":2.0},{"a":180,"b":195,"r":30,"s":35,"p":1.9},{"a":180,"b":195,"r":35,"s":40,"p":1.8},{"a":180,"b":195,"r":40,"s":45,"p":2.6},{"a":180,"b":195,"r":45,"s":50,"p":1.7},{"a":180,"b":195,"r":50,"s":55,"p":1.5},{"a":180,"b":195,"r":55,"s":60,"p":1.3},
{"a":195,"b":210,"r":0,"s":10,"p":2.4},{"a":195,"b":210,"r":10,"s":15,"p":2.2},{"a":195,"b":210,"r":15,"s":20,"p":2.1},{"a":195,"b":210,"r":20,"s":25,"p":2.1},{"a":195,"b":210,"r":25,"s":30,"p":2.0},{"a":195,"b":210,"r":30,"s":35,"p":2.0},{"a":195,"b":210,"r":35,"s":40,"p":1.9},{"a":195,"b":210,"r":40,"s":45,"p":1.9},{"a":195,"b":210,"r":45,"s":50,"p":1.8},{"a":195,"b":210,"r":50,"s":55,"p":1.6},
{"a":210,"b":225,"r":0,"s":10,"p":2.45},{"a":210,"b":225,"r":10,"s":15,"p":2.3},{"a":210,"b":225,"r":15,"s":20,"p":2.2},{"a":210,"b":225,"r":20,"s":25,"p":2.2},{"a":210,"b":225,"r":25,"s":30,"p":2.1},{"a":210,"b":225,"r":30,"s":35,"p":2.1},{"a":210,"b":225,"r":35,"s":40,"p":2.0},{"a":210,"b":225,"r":40,"s":45,"p":1.9},{"a":210,"b":225,"r":45,"s":50,"p":1.8},{"a":210,"b":225,"r":50,"s":55,"p":1.6},
{"a":225,"b":240,"r":0,"s":10,"p":2.45},{"a":225,"b":240,"r":10,"s":15,"p":2.3},{"a":225,"b":240,"r":15,"s":20,"p":2.3},{"a":225,"b":240,"r":20,"s":25,"p":2.2},{"a":225,"b":240,"r":25,"s":30,"p":2.2},{"a":225,"b":240,"r":30,"s":35,"p":2.1},{"a":225,"b":240,"r":40,"s":45,"p":1.8},{"a":225,"b":240,"r":45,"s":50,"p":1.6},
{"a":240,"b":255,"r":0,"s":10,"p":2.45},{"a":240,"b":255,"r":10,"s":15,"p":2.3},{"a":240,"b":255,"r":15,"s":20,"p":2.3},{"a":240,"b":255,"r":20,"s":25,"p":2.2},{"a":240,"b":255,"r":25,"s":30,"p":2.2},{"a":240,"b":255,"r":30,"s":35,"p":2.1},{"a":240,"b":255,"r":35,"s":40,"p":2.0},{"a":240,"b":255,"r":40,"s":45,"p":1.8},
{"a":255,"b":270,"r":0,"s":10,"p":2.5},{"a":255,"b":270,"r":10,"s":15,"p":2.3},{"a":255,"b":270,"r":15,"s":20,"p":2.3},{"a":255,"b":270,"r":20,"s":25,"p":2.4},{"a":255,"b":270,"r":25,"s":30,"p":3.0},{"a":255,"b":270,"r":30,"s":35,"p":2.2},{"a":255,"b":270,"r":35,"s":40,"p":2.0},{"a":255,"b":270,"r":40,"s":45,"p":1.8},
{"a":270,"b":285,"r":0,"s":10,"p":2.55},{"a":270,"b":285,"r":10,"s":15,"p":2.4},{"a":270,"b":285,"r":15,"s":20,"p":2.3},{"a":270,"b":285,"r":20,"s":25,"p":2.2},{"a":270,"b":285,"r":25,"s":30,"p":2.2},{"a":270,"b":285,"r":30,"s":35,"p":2.1},{"a":270,"b":285,"r":35,"s":40,"p":2.0},{"a":270,"b":285,"r":40,"s":45,"p":1.8},
{"a":285,"b":300,"r":0,"s":10,"p":2.45},{"a":285,"b":300,"r":10,"s":15,"p":2.3},{"a":285,"b":300,"r":15,"s":20,"p":2.2},{"a":285,"b":300,"r":20,"s":25,"p":2.1},{"a":285,"b":300,"r":25,"s":30,"p":2.0},{"a":285,"b":300,"r":30,"s":35,"p":2.0},{"a":285,"b":300,"r":35,"s":40,"p":3.0},{"a":285,"b":300,"r":40,"s":45,"p":1.7},
{"a":300,"b":315,"r":0,"s":10,"p":2.35},{"a":300,"b":315,"r":10,"s":15,"p":2.2},{"a":300,"b":315,"r":15,"s":20,"p":3.2},{"a":300,"b":315,"r":20,"s":25,"p":2.1},{"a":300,"b":315,"r":25,"s":30,"p":2.0},{"a":300,"b":315,"r":30,"s":35,"p":1.9},{"a":300,"b":315,"r":35,"s":40,"p":1.8},{"a":300,"b":315,"r":40,"s":45,"p":1.6},{"a":300,"b":315,"r":45,"s":50,"p":1.4},
{"a":315,"b":330,"r":0,"s":10,"p":2.35},{"a":315,"b":330,"r":10,"s":15,"p":2.2},{"a":315,"b":330,"r":15,"s":20,"p":2.1},{"a":315,"b":330,"r":20,"s":25,"p":2.0},{"a":315,"b":330,"r":25,"s":30,"p":3.2},{"a":315,"b":330,"r":30,"s":35,"p":1.8},{"a":315,"b":330,"r":35,"s":40,"p":1.7},{"a":315,"b":330,"r":40,"s":45,"p":1.5},{"a":315,"b":330,"r":45,"s":50,"p":1.3},
{"a":330,"b":345,"r":0,"s":10,"p":2.25},{"a":330,"b":345,"r":10,"s":15,"p":2.1},{"a":330,"b":345,"r":15,"s":20,"p":2.0},{"a":330,"b":345,"r":20,"s":25,"p":1.9},{"a":330,"b":345,"r":25,"s":30,"p":1.8},{"a":330,"b":345,"r":30,"s":35,"p":1.7},{"a":330,"b":345,"r":35,"s":40,"p":1.6},{"a":330,"b":345,"r":45,"s":50,"p":1.2},
{"a":345,"b":360,"r":0,"s":10,"p":2.05},{"a":345,"b":360,"r":10,"s":15,"p":1.9},{"a":345,"b":360,"r":15,"s":20,"p":1.9},{"a":345,"b":360,"r":20,"s":25,"p":1.8},{"a":345,"b":360,"r":25,"s":30,"p":1.7},{"a":345,"b":360,"r":30,"s":35,"p":1.6},{"a":345,"b":360,"r":35,"s":40,"p":1.5},{"a":345,"b":360,"r":40,"s":45,"p":3.3},{"a":345,"b":360,"r":45,"s":50,"p":1.2}
]},
"mark":{"type":"arc","strokeWidth":0.6},
"encoding":{
"theta":{"field":"a","type":"quantitative","scale":{"type":"linear","domain":[0,360],"range":[0,6.283185307179586]}},"theta2":{"field":"b"},
"radius":{"field":"r","type":"quantitative","scale":{"type":"linear","domain":[0,60],"range":[0,104],"zero":true,"nice":false}},"radius2":{"field":"s"},
"fill":{"field":"p","type":"quantitative","scale":{"domain":[0,0.725,1.45,2.175,2.5375,2.9,3.625,4.35,5.075,5.8,6.525,7.25],"range":["#ffffff","#fffbd0","#fffa80","#ffff3c","#ffff10","#f8e020","#eda035","#f06020","#e80000","#a00000","#500000","#000000"],"interpolate":"rgb"},"legend":null},
"stroke":{"field":"p","type":"quantitative","scale":{"domain":[0,0.725,1.45,2.175,2.5375,2.9,3.625,4.35,5.075,5.8,6.525,7.25],"range":["#ffffff","#fffbd0","#fffa80","#ffff3c","#ffff10","#f8e020","#eda035","#f06020","#e80000","#a00000","#500000","#000000"],"interpolate":"rgb"},"legend":null}}},
{"data":{"values":[{"r":20},{"r":40},{"r":60}]},"mark":{"type":"arc","filled":false,"stroke":"#1a1a1a","strokeWidth":1.2},
"encoding":{"theta":{"datum":0},"theta2":{"datum":360},"radius":{"field":"r","type":"quantitative"},"radius2":{"datum":0}}},
{"data":{"values":[{"x":-60,"y":0,"x2":60,"y2":0},{"x":0,"y":-60,"x2":0,"y2":60},{"x":0,"y":0,"x2":49.74,"y2":33.55}]},"mark":{"type":"rule","color":"#1a1a1a","strokeWidth":1.2},
"encoding":{"x":{"field":"x","type":"quantitative","scale":{"domain":[-66.35,66.35],"nice":false,"zero":false},"axis":null},"y":{"field":"y","type":"quantitative","scale":{"domain":[-69.23,69.23],"nice":false,"zero":false},"axis":null},"x2":{"field":"x2"},"y2":{"field":"y2"}}},
{"data":{"values":[{"y":0,"l":"0"},{"y":-20,"l":"20"},{"y":-40,"l":"40"},{"y":-60,"l":"60"}]},"mark":{"type":"text","align":"left","baseline":"bottom","dx":1,"fontSize":13,"color":"#222222"},"encoding":{"x":{"datum":0},"y":{"field":"y","type":"quantitative"},"text":{"field":"l"}}},
{"data":{"values":[{}]},"mark":{"type":"text","align":"center","baseline":"bottom","dy":-1,"font":"Lato","fontWeight":"bold","fontSize":15},"encoding":{"x":{"datum":0},"y":{"datum":60},"text":{"value":"N"}}},
{"data":{"values":[{}]},"mark":{"type":"text","align":"center","baseline":"top","dy":1,"font":"Lato","fontWeight":"bold","fontSize":15},"encoding":{"x":{"datum":0},"y":{"datum":-60},"text":{"value":"S"}}},
{"data":{"values":[{}]},"mark":{"type":"text","align":"right","baseline":"middle","dx":-1,"font":"Lato","fontWeight":"bold","fontSize":15},"encoding":{"x":{"datum":-60},"y":{"datum":0},"text":{"value":"W"}}},
{"data":{"values":[{}]},"mark":{"type":"text","align":"left","baseline":"middle","dx":1,"font":"Lato","fontWeight":"bold","fontSize":15},"encoding":{"x":{"datum":60},"y":{"datum":0},"text":{"value":"E"}}},
{"data":{"values":[{}]},"mark":{"type":"text","align":"left","baseline":"bottom","dx":1,"fontSize":11,"color":"#222222"},"encoding":{"x":{"datum":50.5},"y":{"datum":34},"text":{"value":"56°"}}},
{"data":{"values":[{}]},"mark":{"type":"text","align":"left","baseline":"middle","font":"Lato","fontWeight":"bold","fontSize":21},"encoding":{"x":{"datum":-53.7},"y":{"datum":61.2},"text":{"value":"(b)"}}}
]},
{"width":192,"height":195,
"layer":[
{"data":{"values":[{"w":6.9,"p":5.13,"t":-12},{"w":1.9,"p":3.85,"t":-12},{"w":33,"p":4.94,"t":7},{"w":50.9,"p":4.55,"t":7},{"w":16.8,"p":4.25,"t":11},{"w":45.9,"p":4.25,"t":0},{"w":37.9,"p":4.07,"t":13},{"w":22.8,"p":3.76,"t":1},{"w":33,"p":3.74,"t":1},{"w":38,"p":3.71,"t":9},{"w":44.2,"p":3.9,"t":9},{"w":42.6,"p":3.66,"t":1},{"w":42,"p":3.59,"t":1},{"w":50.9,"p":3.51,"t":9},{"w":7.9,"p":3.64,"t":8},{"w":16.8,"p":3.61,"t":2},{"w":18.1,"p":3.51,"t":2},{"w":11.9,"p":3.51,"t":12},{"w":21.7,"p":3.51,"t":9},{"w":22.8,"p":3.56,"t":9},{"w":4,"p":3.12,"t":1},{"w":13,"p":3.25,"t":25},{"w":13,"p":3.0,"t":25},{"w":13,"p":2.69,"t":18},{"w":13,"p":2.48,"t":25},{"w":13,"p":2.85,"t":12},{"w":26.9,"p":3.53,"t":2},{"w":28,"p":3.35,"t":9},{"w":21.9,"p":3.2,"t":10},{"w":26.9,"p":2.94,"t":9},{"w":33,"p":2.94,"t":9},{"w":35.8,"p":2.96,"t":10},{"w":40,"p":2.76,"t":16},{"w":39,"p":3.25,"t":12},{"w":31.9,"p":2.55,"t":1},{"w":36.9,"p":2.9,"t":1},{"w":6.9,"p":2.79,"t":9},{"w":7.9,"p":2.72,"t":17},{"w":7.9,"p":2.53,"t":10},{"w":7.9,"p":2.45,"t":12},{"w":6.9,"p":2.53,"t":1},{"w":4,"p":2.69,"t":11},{"w":2.9,"p":2.48,"t":25},{"w":2.9,"p":2.33,"t":25},{"w":2.9,"p":2.12,"t":20},{"w":2.9,"p":1.97,"t":10},{"w":2.9,"p":1.66,"t":10},{"w":1.9,"p":1.49,"t":-10},{"w":5,"p":1.49,"t":26},{"w":6.9,"p":1.79,"t":25},{"w":6.9,"p":2.25,"t":24},{"w":16.8,"p":2.45,"t":25},{"w":18.1,"p":2.71,"t":18},{"w":18.1,"p":2.45,"t":25},{"w":18.1,"p":1.95,"t":10},{"w":18.1,"p":1.84,"t":10},{"w":19.1,"p":2.45,"t":25},{"w":20.9,"p":2.45,"t":25},{"w":16.8,"p":2.14,"t":10},{"w":18.1,"p":2.33,"t":1},{"w":21.7,"p":2.71,"t":10},{"w":22.8,"p":2.69,"t":18},{"w":21.7,"p":2.17,"t":10},{"w":24,"p":2.23,"t":25},{"w":25.9,"p":2.17,"t":25},{"w":25.9,"p":1.87,"t":25},{"w":25.9,"p":1.73,"t":25},{"w":26.9,"p":2.53,"t":10},{"w":26.9,"p":2.33,"t":1},{"w":26.9,"p":2.07,"t":10},{"w":19.1,"p":1.18,"t":-12},{"w":5.7,"p":0.38,"t":-8},{"w":43.3,"p":1.53,"t":10},{"w":45.9,"p":2.09,"t":-3},{"w":2.9,"p":2.3,"t":-2},{"w":3.5,"p":2.6,"t":2}]},
"mark":{"type":"square","size":58,"opacity":1},
"encoding":{"x":{"field":"w","type":"quantitative","scale":{"domain":[0,60],"nice":false,"zero":false},"axis":{"values":[0,20,40,60],"grid":true,"title":"WS (km/h)","titlePadding":2}},
"y":{"field":"p","type":"quantitative","scale":{"domain":[0,6],"nice":false},"axis":{"values":[0,1,2,3,4,5,6],"tickCount":20,"format":"d","grid":true,"title":"PNC","titlePadding":4}},
"color":{"field":"t","type":"quantitative","scale":{"domain":[-20,-13.125,-6.25,0.625,7.5,14.375,21.25,28.125,35],"range":["#352a87","#0f5cdd","#1481d6","#06a4ca","#2eb7a4","#87bf77","#d1bb59","#fec832","#f9fb0e"],"interpolate":"rgb"},"legend":null}}},
{"data":{"values":[{"w":48.1,"p":2.15},{"w":33.9,"p":1.03},{"w":36.9,"p":1.03},{"w":40.1,"p":0.96},{"w":40.1,"p":0.74},{"w":41,"p":0.6},{"w":44.2,"p":0.76},{"w":45.8,"p":0.99},{"w":49.1,"p":1.54},{"w":49.6,"p":1.41},{"w":50.1,"p":1.3},{"w":51,"p":1.19},{"w":50.9,"p":0.81},{"w":50.9,"p":0.33},{"w":53.9,"p":1.05},{"w":55.3,"p":0.15},{"w":57,"p":0.94},{"w":60,"p":0.09}]},
"mark":{"type":"circle","size":42,"color":"#000000","opacity":1},
"encoding":{"x":{"field":"w","type":"quantitative"},"y":{"field":"p","type":"quantitative"}}},
{"data":{"values":[{"w":55.9,"p":1.94,"w2":53.6,"p2":1.1}]},"mark":{"type":"rule","color":"#000000","strokeWidth":1},"encoding":{"x":{"field":"w","type":"quantitative"},"y":{"field":"p","type":"quantitative"},"x2":{"field":"w2"},"y2":{"field":"p2"}}},
{"data":{"values":[{"w":53.5,"p":1.05}]},"mark":{"type":"point","shape":"triangle-down","filled":true,"size":45,"angle":15,"color":"#000000","opacity":1},"encoding":{"x":{"field":"w","type":"quantitative"},"y":{"field":"p","type":"quantitative"}}},
{"data":{"values":[{}]},"mark":{"type":"text","align":"left","baseline":"bottom","dy":-1,"fontSize":12,"color":"#666666"},"encoding":{"x":{"datum":0},"y":{"datum":6},"text":{"value":"×10⁴"}}},
{"data":{"values":[{}]},"mark":{"type":"text","align":"left","baseline":"top","fontSize":12.5,"lineHeight":11.5,"color":"#333333"},"encoding":{"x":{"datum":42.2},"y":{"datum":5.88},"text":{"value":["Impact","Sector","Winds"]}}},
{"data":{"values":[{}]},"mark":{"type":"text","align":"right","baseline":"top","fontSize":12.5,"lineHeight":12,"color":"#333333"},"encoding":{"x":{"datum":66.9},"y":{"datum":3.05},"text":{"value":["Normal","Operations","Interrupted"]}}},
{"data":{"values":[{}]},"mark":{"type":"text","align":"left","baseline":"middle","font":"Lato","fontWeight":"bold","fontSize":21},"encoding":{"x":{"datum":-11.56},"y":{"datum":5.57},"text":{"value":"(d)"}}}
]},
{"width":194,"height":195,
"layer":[
{"data":{"values":[{"w":0.5,"p":3.22,"t":-12},{"w":3,"p":3.45,"t":-1},{"w":3,"p":3.2,"t":-10},{"w":3,"p":3.0,"t":2},{"w":3,"p":2.85,"t":5},{"w":3,"p":2.5,"t":10},{"w":3,"p":2.25,"t":11},{"w":3,"p":2.0,"t":18},{"w":3,"p":1.8,"t":25},{"w":3,"p":1.65,"t":26},{"w":3,"p":1.45,"t":31},{"w":3,"p":1.4,"t":32},{"w":4,"p":2.8,"t":0},{"w":4.5,"p":2.75,"t":-3},{"w":8,"p":4.17,"t":-12},{"w":8,"p":4.05,"t":-12},{"w":8,"p":3.35,"t":-1},{"w":8,"p":3.1,"t":-1},{"w":8,"p":2.9,"t":1},{"w":8,"p":2.7,"t":3},{"w":8,"p":2.5,"t":8},{"w":8,"p":2.3,"t":9},{"w":8,"p":2.1,"t":10},{"w":8,"p":1.85,"t":18},{"w":8,"p":1.75,"t":25},{"w":8,"p":1.6,"t":31},{"w":7,"p":1.55,"t":32},{"w":12,"p":4.97,"t":-18},{"w":13,"p":4.38,"t":-14},{"w":13,"p":3.1,"t":-8},{"w":13,"p":2.9,"t":-9},{"w":13,"p":2.7,"t":-8},{"w":13,"p":2.5,"t":0},{"w":13,"p":2.3,"t":1},{"w":13,"p":2.0,"t":9},{"w":13,"p":1.85,"t":10},{"w":13,"p":1.7,"t":17},{"w":13,"p":1.6,"t":25},{"w":13,"p":1.45,"t":26},{"w":15,"p":1.8,"t":31},{"w":17,"p":2.6,"t":-1},{"w":17,"p":2.5,"t":0},{"w":17,"p":2.3,"t":8},{"w":17,"p":2.1,"t":10},{"w":17,"p":1.75,"t":18},{"w":17,"p":1.5,"t":25},{"w":18,"p":4.3,"t":-12},{"w":18,"p":3.45,"t":-12},{"w":18,"p":2.95,"t":-12},{"w":18,"p":2.55,"t":-12},{"w":18,"p":2.35,"t":-18},{"w":18,"p":2.2,"t":32},{"w":18,"p":1.7,"t":32},{"w":22,"p":2.95,"t":-17},{"w":22,"p":2.6,"t":-10},{"w":22,"p":2.45,"t":-2},{"w":22,"p":2.25,"t":0},{"w":22,"p":2.0,"t":8},{"w":22,"p":1.8,"t":10},{"w":22,"p":1.55,"t":17},{"w":22,"p":1.4,"t":25},{"w":22,"p":1.35,"t":31},{"w":23,"p":3.2,"t":-12},{"w":23,"p":2.4,"t":-18},{"w":23,"p":1.45,"t":31},{"w":27,"p":3.6,"t":-19},{"w":27,"p":3.55,"t":-18},{"w":27,"p":2.75,"t":-1},{"w":27,"p":2.6,"t":0},{"w":27,"p":2.4,"t":1},{"w":27,"p":2.2,"t":2},{"w":27,"p":1.95,"t":9},{"w":27,"p":1.8,"t":15},{"w":27,"p":1.6,"t":17},{"w":27,"p":1.4,"t":25},{"w":27,"p":1.2,"t":27},{"w":28,"p":3.45,"t":-18},{"w":28,"p":1.95,"t":10},{"w":32,"p":2.8,"t":0},{"w":32,"p":2.4,"t":0},{"w":32,"p":2.2,"t":1},{"w":32,"p":2.0,"t":2},{"w":32,"p":1.75,"t":9},{"w":32,"p":1.55,"t":10},{"w":32,"p":1.3,"t":26},{"w":32,"p":1.2,"t":-10},{"w":32,"p":1.0,"t":26},{"w":32,"p":0.7,"t":30},{"w":33,"p":2.2,"t":-18},{"w":33,"p":2.05,"t":-12},{"w":33,"p":1.2,"t":26},{"w":36,"p":2.0,"t":12},{"w":36,"p":1.5,"t":-4},{"w":36,"p":1.3,"t":26},{"w":36,"p":1.1,"t":31},{"w":37,"p":1.9,"t":2},{"w":37,"p":1.55,"t":32},{"w":37,"p":1.25,"t":26},{"w":38,"p":1.85,"t":-10},{"w":38,"p":1.45,"t":31},{"w":38,"p":1.1,"t":-12},{"w":40,"p":0.8,"t":30},{"w":41,"p":2.35,"t":12},{"w":41,"p":2.0,"t":18},{"w":41,"p":1.4,"t":17},{"w":41,"p":1.1,"t":-12},{"w":42,"p":2.4,"t":2},{"w":42,"p":2.2,"t":-10},{"w":42,"p":1.9,"t":2},{"w":42,"p":1.65,"t":2},{"w":42,"p":1.3,"t":10},{"w":45,"p":0.95,"t":-10},{"w":46,"p":1.65,"t":3},{"w":46,"p":1.55,"t":8},{"w":46,"p":0.85,"t":18},{"w":47,"p":3.42,"t":-10},{"w":47,"p":1.3,"t":2},{"w":47,"p":0.7,"t":26},{"w":48,"p":1.7,"t":8},{"w":48,"p":0.9,"t":18},{"w":50,"p":1.5,"t":1},{"w":52,"p":1.95,"t":18},{"w":52,"p":1.35,"t":2},{"w":52,"p":1.25,"t":8},{"w":52,"p":1.05,"t":10},{"w":54,"p":1.3,"t":1},{"w":56,"p":1.25,"t":-5},{"w":52,"p":0.2,"t":-12},{"w":55,"p":0.4,"t":8},{"w":56,"p":0.2,"t":-12},{"w":57,"p":0.15,"t":-12},{"w":58,"p":0.2,"t":-10},{"w":58,"p":0.35,"t":12}]},
"mark":{"type":"square","size":50,"opacity":1},
"encoding":{"x":{"field":"w","type":"quantitative","scale":{"domain":[0,60],"nice":false,"zero":false},"axis":{"values":[0,20,40,60],"grid":true,"title":"WS (km/h)","titlePadding":2}},
"y":{"field":"p","type":"quantitative","scale":{"domain":[0,6],"nice":false},"axis":{"values":[0,1,2,3,4,5,6],"tickCount":20,"format":"d","grid":true,"title":null}},
"color":{"field":"t","type":"quantitative","scale":{"domain":[-20,-13.125,-6.25,0.625,7.5,14.375,21.25,28.125,35],"range":["#352a87","#0f5cdd","#1481d6","#06a4ca","#2eb7a4","#87bf77","#d1bb59","#fec832","#f9fb0e"],"interpolate":"rgb"},"legend":null}}},
{"data":{"values":[{}]},"mark":{"type":"text","align":"left","baseline":"bottom","dy":-1,"fontSize":12,"color":"#666666"},"encoding":{"x":{"datum":0},"y":{"datum":6},"text":{"value":"×10⁴"}}},
{"data":{"values":[{}]},"mark":{"type":"text","align":"left","baseline":"top","fontSize":12.5,"lineHeight":11.5,"color":"#333333"},"encoding":{"x":{"datum":40.5},"y":{"datum":5.88},"text":{"value":["Other","Winds"]}}},
{"data":{"values":[{}]},"mark":{"type":"text","align":"left","baseline":"middle","font":"Lato","fontWeight":"bold","fontSize":21},"encoding":{"x":{"datum":-10.2},"y":{"datum":5.57},"text":{"value":"(f)"}}}
]}
]
}
